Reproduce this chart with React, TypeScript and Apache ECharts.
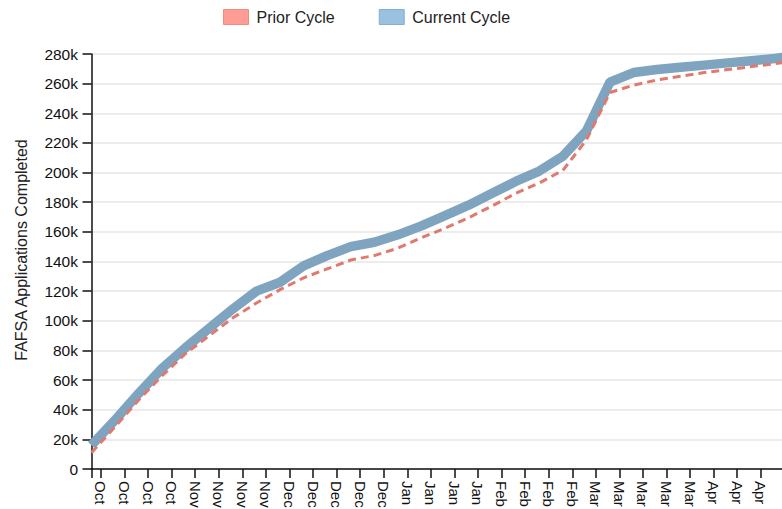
import React, { useEffect, useRef } from 'react';
import * as echarts from 'echarts';

const FONT = '"Liberation Sans", Arial, Helvetica, sans-serif';

// weekly tick labels (one per week)
const weekLabels = [
  'Oct', 'Oct', 'Oct', 'Oct',
  'Nov', 'Nov', 'Nov', 'Nov',
  'Dec', 'Dec', 'Dec', 'Dec', 'Dec',
  'Jan', 'Jan', 'Jan', 'Jan',
  'Feb', 'Feb', 'Feb', 'Feb',
  'Mar', 'Mar', 'Mar', 'Mar', 'Mar',
  'Apr', 'Apr', 'Apr', 'Apr', 'Apr',
];

// cumulative FAFSA applications completed, per week
const currentCycle = [
  16000, 33000, 51000, 68000, 82000, 95000, 108000, 120000, 126000, 137000,
  144000, 150000, 153000, 158000, 164000, 171000, 178000, 186000, 194000, 201000,
  211000, 228000, 261000, 267500, 269500, 271000, 272500, 274000, 275500, 277000,
  279000,
];
const priorCycle = [
  11000, 28500, 46500, 63000, 78000, 90000, 102000, 112000, 121000, 129000,
  135000, 141000, 144000, 149000, 156000, 162500, 169500, 177500, 186000, 193000,
  201500, 222000, 254000, 259000, 262500, 265000, 267500, 269500, 271500, 273500,
  275500,
];

const yTitle = 'FAFSA Applications Completed';
const yTickFormat = (v: number) => (v === 0 ? '0' : `${v / 1000}k`);

export default function App() {
  const ref = useRef<HTMLDivElement>(null);

  useEffect(() => {
    const chart = echarts.init(ref.current!, null, { renderer: 'svg' });
    const labelVals = weekLabels.map((_, i) => i + 0.4);
    const tickVals = [0, ...labelVals];
    const axisColor = '#111';

    chart.setOption({
      animation: false,
      legend: {
        left: 223,
        top: 9,
        padding: 0,
        itemWidth: 25,
        itemHeight: 15,
        itemGap: 44,
        icon: 'rect',
        textStyle: { fontFamily: FONT, fontSize: 16, color: '#222', padding: [0, 0, 0, 3] },
        data: [
          {
            name: 'Prior Cycle',
            itemStyle: { color: '#FF9C94', borderColor: '#EF8B83', borderWidth: 1 },
          },
          {
            name: 'Current Cycle',
            itemStyle: { color: '#9AC1DF', borderColor: '#86AFCF', borderWidth: 1 },
          },
        ],
      },
      graphic: [
        {
          type: 'text',
          x: 21,
          y: 250,
          rotation: Math.PI / 2,
          style: {
            text: yTitle,
            font: `16px ${FONT}`,
            fill: '#222',
            textAlign: 'center',
            textVerticalAlign: 'middle',
          },
        },
      ],
      grid: {
        left: 91.5,
        right: 0,
        top: 54,
        bottom: 40,
        containLabel: false,
        outerBoundsMode: 'none',
      },
      xAxis: {
        type: 'value',
        min: 0,
        max: 29.3,
        axisLine: { show: true, onZero: false, lineStyle: { color: axisColor, width: 1.5 } },
        axisTick: {
          show: true,
          length: 9,
          customValues: tickVals,
          lineStyle: { color: axisColor, width: 1.5 },
        },
        axisLabel: {
          customValues: labelVals,
          rotate: -90,
          margin: 12,
          fontSize: 15,
          fontFamily: FONT,
          color: '#111',
          formatter: (v: number) => weekLabels[Math.round(v - 0.4)] ?? '',
        },
        splitLine: { show: false },
      },
      yAxis: {
        type: 'value',
        min: 0,
        max: 280000,
        interval: 20000,
        axisLine: { show: true, lineStyle: { color: axisColor, width: 1.5 } },
        axisTick: { show: true, length: 9, lineStyle: { color: axisColor, width: 1.5 } },
        axisLabel: {
          margin: 13.5,
          fontSize: 15.5,
          fontFamily: FONT,
          color: '#111',
          formatter: yTickFormat,
        },
        splitLine: { show: true, lineStyle: { color: '#e6e6e6', width: 1.5 } },
      },
      series: [
        {
          name: 'Current Cycle',
          type: 'line',
          data: currentCycle.map((v, i) => [i, v]),
          showSymbol: false,
          symbol: 'none',
          clip: true,
          lineStyle: { color: '#7FA4C0', width: 9.5 },
          itemStyle: { color: '#9AC1DF' },
          z: 2,
        },
        {
          name: 'Prior Cycle',
          type: 'line',
          data: priorCycle.map((v, i) => [i, v]),
          showSymbol: false,
          symbol: 'none',
          clip: true,
          lineStyle: { color: '#E0796E', width: 3, type: [8, 5] },
          itemStyle: { color: '#FF9C94' },
          z: 3,
        },
      ],
    });

    return () => chart.dispose();
  }, []);

  return (
    <div
      ref={ref}
      style={{ position: 'absolute', left: 0, top: 0, width: 782, height: 509 }}
    />
  );
}
